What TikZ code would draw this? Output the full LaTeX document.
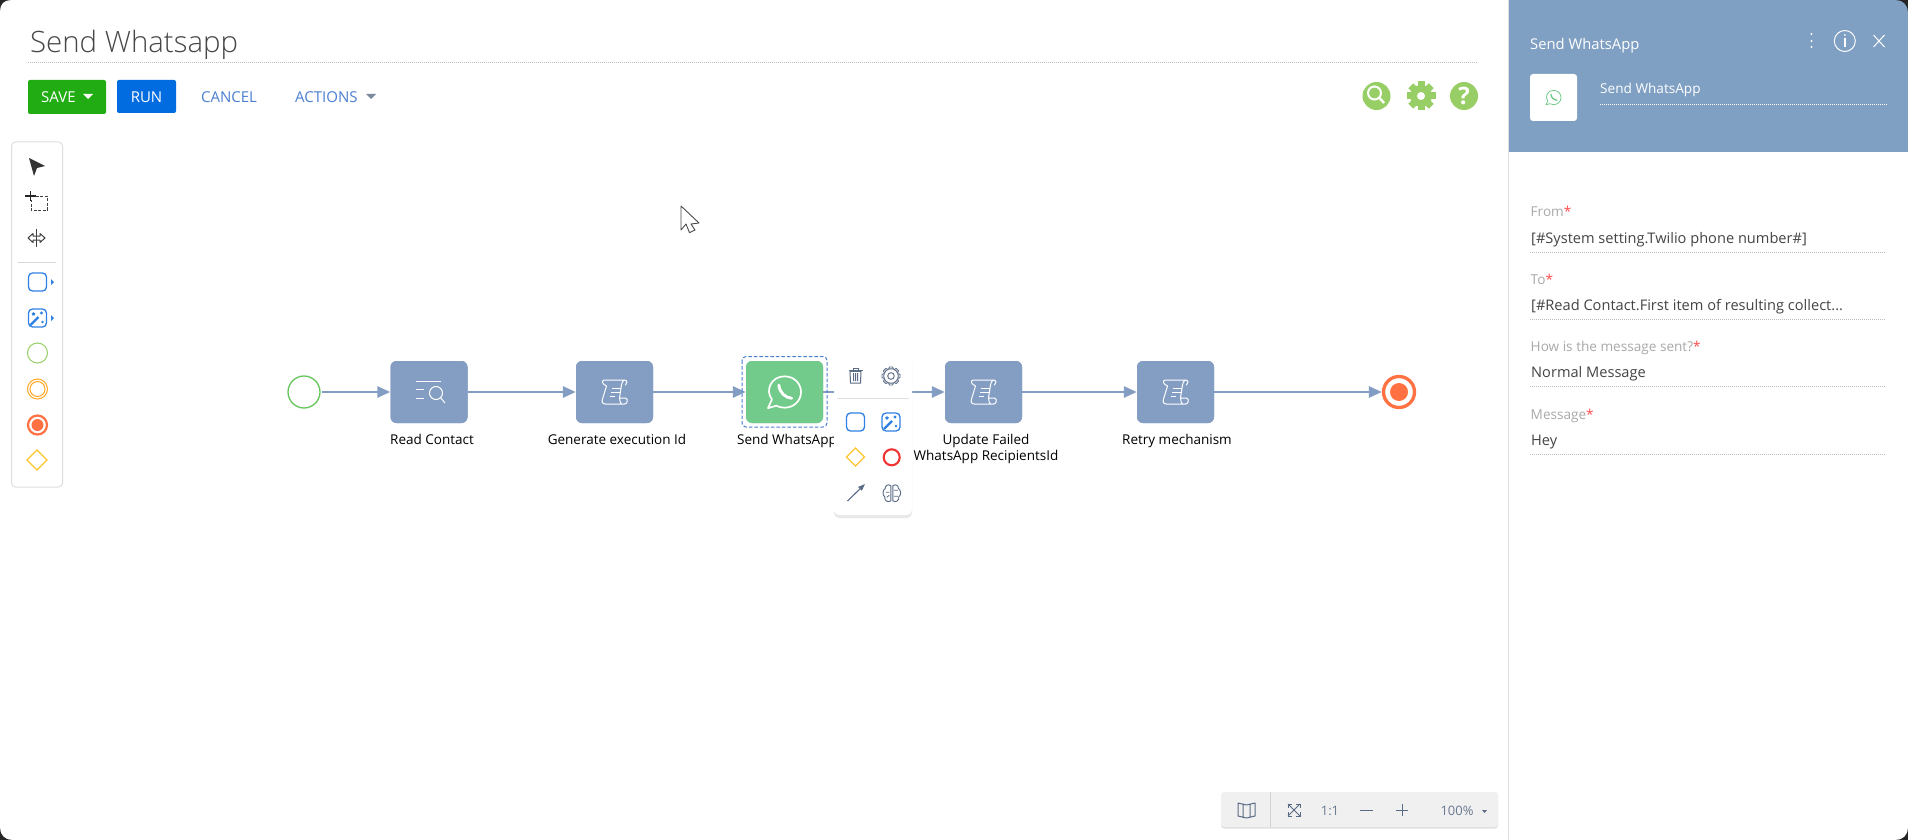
\documentclass[tikz,border=0pt]{standalone}
\usepackage{fontspec}
\setmainfont{Open Sans}
\newfontfamily\lightf[UprightFont={* Light}]{Open Sans}
\usetikzlibrary{arrows.meta,shapes.geometric,shadows,calc}
\definecolor{flow}{HTML}{839DC3}
\definecolor{panel}{HTML}{7F9FC3}
\definecolor{wa}{HTML}{73CB8B}
\definecolor{saveg}{HTML}{21AC14}
\definecolor{runb}{HTML}{006CE0}
\definecolor{linkb}{HTML}{4A7FD0}
\definecolor{lime}{HTML}{98CE66}
\definecolor{startg}{HTML}{66C45A}
\definecolor{rule}{HTML}{BDBDBD}
\definecolor{lab}{HTML}{A9A9A9}
\definecolor{val}{HTML}{444444}
\definecolor{toolb}{HTML}{2F80E4}
\definecolor{tomato}{HTML}{FF7043}
\definecolor{gold}{HTML}{FFC62E}
\definecolor{orng}{HTML}{FFA726}
\definecolor{icong}{HTML}{5A6B85}
\definecolor{redc}{HTML}{F03333}
\tikzset{
  fs/.style={font=\fontsize{#1}{#1}\selectfont},
  task/.style={draw=none,fill=flow,rounded corners=6,minimum width=77,minimum height=62,inner sep=0},
  lbl/.style={fs=13.5,text=black,inner sep=0,anchor=base,align=center},
  flowline/.style={draw=flow,line width=2.8,-{Triangle[length=13,width=11,fill=flow]}},
  dots/.style={draw=rule,line width=.8,dash pattern=on 1 off 1},
  btn/.style={rounded corners=2,inner sep=0,text=white,fs=15},
  flab/.style={anchor=base west,inner sep=0,fs=13.6,text=lab},
  fval/.style={anchor=base west,inner sep=0,fs=14.6,text=val},
  kbtn/.style={rounded corners=4,draw=toolb,line width=1.3,fill=white}
}
\newcommand{\scrollicon}[1]{%
 \begin{scope}[shift={#1}]
  \draw[white,line width=1,line join=round,line cap=round]
   (-10,-12) -- (10,-12) .. controls (13,-12) and (13,-8) .. (11,-7)
   (10,-12) .. controls (8,-12) and (7.5,-9) .. (7,-7) -- (5,6)
   (-10,-12) .. controls (-13,-12) and (-13,-8) .. (-8,-6) -- (-12,7) .. controls (-13,10) and (-12,12) .. (-9,12) -- (10,12) .. controls (13,12) and (14,7) .. (11,6) -- (5,6) .. controls (5,9) and (6,11) .. (7,12);
  \draw[white,line width=1] (-3,-4) -- (6,-4) (-4,0) -- (5,0) (-5,4) -- (0,4);
 \end{scope}}
\newcommand{\waicon}[4]{% center, radius, color, width
 \begin{scope}[shift={#1},scale=#2]
  \draw[#3,line width=#4,line join=round] (-1,.98) -- (-.76,.45) .. controls (-1.2,-.1) and (-.8,-.95) .. (0,-.95) .. controls (.6,-.95) and (1,-.5) .. (1,0) .. controls (1,.55) and (.55,.95) .. (0,.95) .. controls (-.2,.95) and (-.36,.9) .. (-.5,.83) -- cycle;
  \draw[#3,line width=#4*1.7,line cap=round] (-.34,-.42) .. controls (-.3,.05) and (.05,.35) .. (.44,.38);
 \end{scope}}
\newcommand{\magicicon}[1]{%
 \begin{scope}[shift={#1}]
  \draw[kbtn] (-9,-9) rectangle (9,9);
  \draw[toolb,line width=2.2] (-7,7) -- (1,-1);
  \node[star,star points=5,fill=toolb,inner sep=0,minimum size=4] (m) at (-4,-4) {};
  \fill[toolb] (4,-5) circle (1.7) (5,4) circle (1.4);
 \end{scope}}
\begin{document}
\begin{tikzpicture}[x=1pt,y=-1pt]
\useasboundingbox (0,0) rectangle (1908,840);
\fill[white] (0,0) rectangle (1908,840);
% window corners
\fill[black!85] (0,0) -- (11,0) .. controls (4,0) and (0,4) .. (0,11) -- cycle;
\fill[black!85] (0,840) -- (12,840) .. controls (5,840) and (0,835) .. (0,828) -- cycle;
% header
\node[anchor=base west,inner sep=0,fs=29.4,text=black!72] (title) at (30,53) {\lightf Send Whatsapp};
\coordinate (ruleA) at (28,62.5); \coordinate (ruleB) at (1478,62.5);
\draw[dots] (ruleA) -- (ruleB);
\node[btn,fill=saveg,minimum width=78,minimum height=34] (save) at (67,97) {};
\node[anchor=base west,inner sep=0,fs=15,text=white] (savet) at (41,102.5) {SAVE};
\fill[white] (83,94) -- (93,94) -- (88,99) -- cycle;
\node[btn,fill=runb,minimum width=59,minimum height=33] (run) at (146.5,96.5) {};
\node[anchor=base,inner sep=0,fs=15,text=white] (runt) at (146.5,102.5) {RUN};
\node[anchor=base,inner sep=0,fs=15,text=linkb] (cancel) at (229,102.5) {CANCEL};
\node[anchor=base west,inner sep=0,fs=15,text=linkb] (actions) at (295,102.5) {ACTIONS};
\fill[icong!80!white] (366,94) -- (376,94) -- (371,99) -- cycle;
% top right icons
\fill[lime] (1376.5,96) circle (14);
\draw[white,line width=2] (1374.5,93) circle (6.5);
\draw[white,line width=2.4] (1379.5,98) -- (1384,103);
\fill[lime] (1421,96) circle (11);
\foreach \a in {0,45,...,315} {\fill[lime,rotate around={\a:(1421,96)}] (1417.5,81.5) rectangle (1424.5,90);}
\fill[white] (1421,96) circle (4);
\fill[lime] (1464,96) circle (14);
\node[inner sep=0,fs=24,text=white] (helpq) at (1464,96) {\bfseries ?};
% toolbar
\node[draw=black!13,fill=white,rounded corners=4,line width=1,minimum width=51,minimum height=345,inner sep=0] (tools) at (37,314.5) {};
\fill[black!80] (29,158) -- (45,166) -- (37,168) -- (34,176) -- cycle;
\draw[black!75,line width=.9,dash pattern=on 3 off 1.5] (31,196) -- (47,196) -- (47,210) -- (31,210) -- (31,200);
\draw[black!85,line width=1.6] (25,196) -- (36,196) (30.5,191) -- (30.5,201);
\draw[black!75,line width=1,line join=round] (28,238) -- (33,233.5) -- (33,236) -- (40,236) -- (40,233.5) -- (45,238) -- (40,242.5) -- (40,240) -- (33,240) -- (33,242.5) -- cycle;
\draw[black!75,line width=1] (36.5,229) -- (36.5,247);
\draw[black!15,line width=1] (18,262.5) -- (56,262.5);
\draw[kbtn] (28.5,273) rectangle (46.5,291);
\fill[toolb] (51,279) -- (54,282) -- (51,285) -- cycle;
\magicicon{(37.5,318)}
\fill[toolb] (51,315) -- (54,318) -- (51,321) -- cycle;
\draw[lime,line width=1] (37.5,353) circle (10);
\draw[orng,line width=1] (37.5,389) circle (10) (37.5,389) circle (7.5);
\draw[tomato,line width=2.2] (37.5,425) circle (9.5);
\fill[tomato] (37.5,425) circle (6);
\draw[gold,line width=1.1] (37,450) -- (47,460) -- (37,470) -- (27,460) -- cycle;
% canvas cursor
\draw[black!70,fill=white,line width=.9,line join=round] (681,206) -- (681,230) -- (686,224) -- (689.5,232.7) -- (695,230) -- (691,224) -- (699,223) -- cycle;
% process nodes
\node[circle,draw=startg,line width=1.3,minimum size=32,inner sep=0,fill=white] (start) at (304,392) {};
\node[task] (read) at (429,392) {};
\node[task] (gen) at (614.5,392) {};
\node[task,fill=wa] (send) at (784.5,392) {};
\node[task] (upd) at (983.5,392) {};
\node[task] (retry) at (1175.5,392) {};
\node[circle,draw=tomato,line width=3.3,minimum size=31,inner sep=0,fill=white] (end) at (1399,392) {};
\fill[tomato] (end) circle (9);
\node[lbl] (readl) at (432,444) {Read Contact};
\node[lbl] (genl) at (617,444) {Generate execution Id};
\node[lbl] (sendl) at (787,444) {Send WhatsApp};
\node[lbl] (updl) at (986,444) {Update Failed};
\node[lbl] (updm) at (986,460) {WhatsApp RecipientsId};
\node[lbl] (retryl) at (1177,444) {Retry mechanism};
\draw[flowline] (start.east) ++(1.5,0) -- (read.west);
\draw[flowline] (read) -- (gen);
\draw[flowline] (gen) -- (send);
\draw[flowline] (send) -- (upd);
\draw[flowline] (upd) -- (retry);
\draw[flowline] (retry) -- (end);
% redraw bodies over lines
\node[task] at (read) {};
\node[task] at (gen) {};
\node[task,fill=wa] at (send) {};
\node[task] at (upd) {};
\node[task] at (retry) {};
% task icons
\begin{scope}[shift={(read.center)}]
 \draw[white,line width=1] (-13,-11) -- (12,-11) (-13,-3) -- (-5,-3) (-13,6) -- (-5,6);
 \draw[white,line width=1] (7,1) circle (6.5) (11.5,5.5) -- (16,11);
\end{scope}
\scrollicon{(gen.center)}
\scrollicon{(upd.center)}
\scrollicon{(retry.center)}
\waicon{(send.center)}{16.5}{white}{1.7}
\draw[dash pattern=on 3.5 off 2,draw=linkb,line width=1,rounded corners=4] (742,356.5) rectangle (827,427);
% popup
\node[fill=white,rounded corners=5,minimum width=78,minimum height=161,inner sep=0,drop shadow={opacity=.18,shadow xshift=0,shadow yshift=3}] (pop) at (873,434.5) {};
\draw[black!12,line width=.8] (837,398.7) -- (909,398.7);
\begin{scope}[icong]
 \draw[icong,line width=1] (850,371) -- (861,371) (848.5,370) -- (862.5,370) (853,370) -- (853,368.5) -- (858,368.5) -- (858,370);
 \draw[icong,line width=1] (850,371) -- (850.5,383) -- (860.5,383) -- (861,371) (853.5,373) -- (853.5,381) (855.5,373) -- (855.5,381) (857.5,373) -- (857.5,381);
 \foreach \a in {0,45,...,315} {\draw[icong,line width=.9,rotate around={\a:(891,376)}] (888.7,369) -- (889.4,367) -- (892.6,367) -- (893.3,369);}
 \draw[icong,line width=.9] (891,376) circle (7.3) (891,376) circle (3.3);
\end{scope}
\draw[kbtn] (846.5,413) rectangle (864.5,431);
\magicicon{(891,422)}
\draw[gold,line width=1.1] (855.5,448) -- (864.5,457) -- (855.5,466) -- (846.5,457) -- cycle;
\draw[redc,line width=2.1] (891.7,457.3) circle (8);
\draw[icong,line width=1.1,-{Triangle[length=7,width=5]}] (847.5,501) -- (865,484);
\begin{scope}[shift={(891.8,493.3)},icong]
 \draw[icong,line width=.9] (-1,-7.5) .. controls (-4,-10) and (-7,-7) .. (-6.5,-5) .. controls (-9.5,-3) and (-9.5,2) .. (-7,3.5) .. controls (-8,7) and (-3.5,10) .. (-1,7.5) -- cycle;
 \draw[icong,line width=.9] (1,-7.5) .. controls (4,-10) and (7,-7) .. (6.5,-5) .. controls (9.5,-3) and (9.5,2) .. (7,3.5) .. controls (8,7) and (3.5,10) .. (1,7.5) -- cycle;
 \draw[icong,line width=.8] (-6,-1) -- (-2.5,-1) (2,-3) -- (6,-3) (2,3) -- (6,3) (-5,4) -- (-2.5,2);
\end{scope}
% zoom bar
\node[fill=black!6,rounded corners=3,minimum width=277,minimum height=35,inner sep=0,drop shadow={opacity=.25,shadow xshift=0,shadow yshift=1.5}] (zbar) at (1359.5,809.5) {};
\draw[black!18,line width=.8] (1270.5,792) -- (1270.5,827);
\begin{scope}[icong]
 \draw[icong,line width=1,line join=round] (1238,803) -- (1246.5,805) -- (1255,803) -- (1255,816) -- (1246.5,818) -- (1238,816) -- cycle (1243,803.5) -- (1243,817) (1250,803.5) -- (1250,817);
 \draw[icong,line width=1] (1288,804) rectangle (1300,816);
\end{scope}
\draw[black!6,line width=3.5] (1294,803) -- (1294,817) (1287,810) -- (1301,810);
\draw[icong,line width=1] (1288,804) -- (1300,816) (1300,804) -- (1288,816);
\node[inner sep=0,anchor=base,fs=13,text=icong!90] (oneone) at (1330,815) {1:1};
\draw[icong,line width=1] (1360,810) -- (1373,810) (1396,810) -- (1408,810) (1402,804) -- (1402,816);
\node[inner sep=0,anchor=base,fs=13,text=icong!90] (pct) at (1457,815) {100\%};
\fill[icong] (1482,810) -- (1487,810) -- (1484.5,813) -- cycle;
% side panel
\fill[panel] (1508.5,0) rectangle (1908,152);
\fill[black!85] (1908,0) -- (1896,0) .. controls (1903,0) and (1908,5) .. (1908,12) -- cycle;
\fill[black!85] (1908,840) -- (1896,840) .. controls (1903,840) and (1908,835) .. (1908,828) -- cycle;
\draw[black!12,line width=1] (1508.5,0) -- (1508.5,840);
\node[anchor=base west,inner sep=0,fs=14.8,text=white] (ph) at (1530,50) {Send WhatsApp};
\fill[white] (1811.5,34) circle (1.2) (1811.5,41) circle (1.2) (1811.5,47) circle (1.2);
\draw[white,line width=1] (1844.8,41) circle (10.5);
\draw[white,line width=1.5] (1844.8,38) -- (1844.8,47);
\fill[white] (1844.8,35) circle (1);
\draw[white,line width=1] (1873.5,35) -- (1884.5,47) (1884.5,35) -- (1873.5,47);
\node[fill=white,rounded corners=3,minimum width=47,minimum height=47,inner sep=0] (wabox) at (1553.5,97.5) {};
\waicon{(wabox.center)}{7.5}{wa}{.8}
\node[anchor=base west,inner sep=0,fs=13.6,text=white] (pname) at (1600,93.5) {Send WhatsApp};
\draw[white,line width=.8,dash pattern=on 1 off 1] (1600,104.5) -- (1887,104.5);
% fields
\node[flab] (f1) at (1530.5,216.5) {From\textcolor{red!70}{*}};
\node[fval] (v1) at (1531,243) {[\#System setting.Twilio phone number\#]};
\draw[dots] (1530,252.5) -- (1886,252.5);
\node[flab] (f2) at (1530.5,284.5) {To\textcolor{red!70}{*}};
\node[fval] (v2) at (1531,310) {[\#Read Contact.First item of resulting collect...};
\draw[dots] (1530,319.5) -- (1886,319.5);
\node[flab] (f3) at (1530.5,351.5) {How is the message sent?\textcolor{red!70}{*}};
\node[fval] (v3) at (1531,377) {Normal Message};
\draw[dots] (1530,386.5) -- (1886,386.5);
\node[flab] (f4) at (1530.5,419.5) {Message\textcolor{red!70}{*}};
\node[fval] (v4) at (1531,445) {Hey};
\draw[dots] (1530,454) -- (1886,454);
\end{tikzpicture}
\end{document}
